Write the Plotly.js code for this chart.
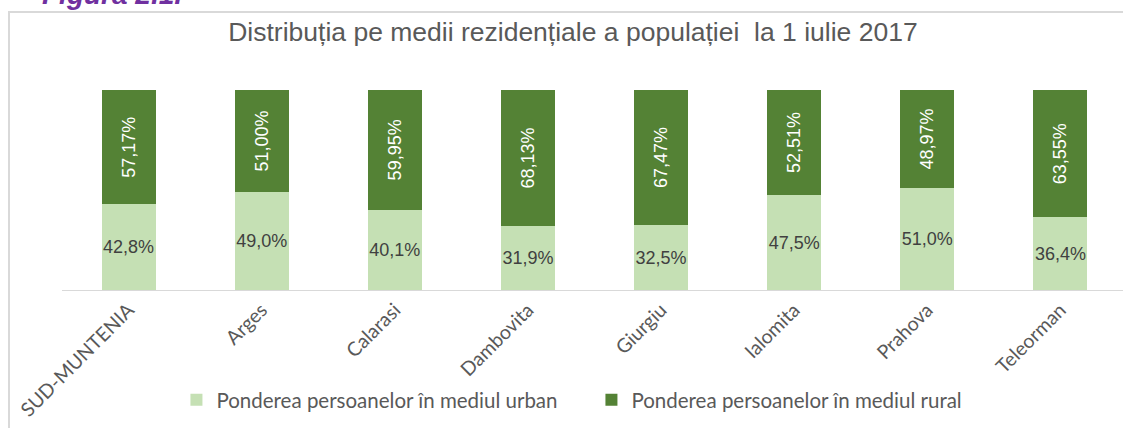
<!DOCTYPE html>
<html>
<head>
<meta charset="utf-8">
<script src="https://cdn.plot.ly/plotly-3.0.1.min.js"></script>
<style>
  html, body { margin: 0; padding: 0; background: #fff; overflow: hidden; }
  #wrap { position: relative; width: 1123px; height: 428px; overflow: hidden; }
  #frame { position: absolute; left: 8px; top: 11px; width: 1200px; height: 500px;
           border: 2px solid #d9d9d9; box-sizing: border-box; pointer-events: none; }
  #chart { position: absolute; left: 0; top: 0; width: 1123px; height: 428px; }
</style>
</head>
<body>
<div id="wrap">
  <div id="frame"></div>
  <div id="chart"></div>
</div>
<script>
const categories = ["SUD-MUNTENIA", "Arges", "Calarasi", "Dambovita", "Giurgiu", "Ialomita", "Prahova", "Teleorman"];
const urbanValues = [42.8, 49.0, 40.1, 31.9, 32.5, 47.5, 51.0, 36.4];
const ruralValues = [57.17, 51.00, 59.95, 68.13, 67.47, 52.51, 48.97, 63.55];
const seriesNames = ["Ponderea persoanelor în mediul urban", "Ponderea persoanelor în mediul rural"];
const chartTitle = "Distribuția pe medii rezidențiale a populației  la 1 iulie 2017";
const figureLabel = "Figura 2.1.";

const urban = {
  type: "bar", x: categories, y: urbanValues, name: seriesNames[0],
  marker: { color: "#C5E0B4" },
  texttemplate: "%{y:.1f}%", textposition: "inside", insidetextanchor: "middle",
  constraintext: "none", textangle: 0,
  textfont: { family: "Arial, Liberation Sans, sans-serif", size: 18, color: "#404040" },
  hoverinfo: "none"
};
const rural = {
  type: "bar", x: categories, y: ruralValues, name: seriesNames[1],
  marker: { color: "#548235" },
  texttemplate: "%{y:.2f}%", textposition: "inside", insidetextanchor: "middle",
  constraintext: "none", textangle: -90,
  textfont: { family: "Arial, Liberation Sans, sans-serif", size: 18, color: "#ffffff" },
  hoverinfo: "none"
};

const layout = {
  width: 1123, height: 428,
  margin: { l: 62, r: 0, t: 90, b: 138 },
  paper_bgcolor: "rgba(0,0,0,0)", plot_bgcolor: "rgba(0,0,0,0)",
  separators: ",.",
  barmode: "stack", bargap: 0.595,
  title: {
    text: chartTitle, xref: "container", x: 0.5102, xanchor: "center",
    yref: "container", y: 0.9255, yanchor: "middle",
    font: { family: "Arial, Liberation Sans, sans-serif", size: 26.5, color: "#595959" }
  },
  xaxis: {
    type: "category", range: [-0.5, 7.47], tickangle: -45,
    showline: true, linecolor: "#d9d9d9", linewidth: 1, ticks: "",
    showgrid: false, zeroline: false,
    tickfont: { family: "Lato, Open Sans, sans-serif", size: 19.5, color: "#595959" }
  },
  yaxis: {
    range: [0, 100], showticklabels: false, showgrid: false, zeroline: false,
    showline: false, ticks: ""
  },
  showlegend: true,
  legend: {
    orientation: "h", x: 0.499, xanchor: "center", y: -0.55, yanchor: "middle",
    font: { family: "Lato, Open Sans, sans-serif", size: 20.5, color: "#595959" },
    traceorder: "normal", entrywidth: 370, bgcolor: "rgba(0,0,0,0)"
  },
  annotations: [{
    text: "<b><i>" + figureLabel + "</i></b>", xref: "paper", yref: "paper",
    x: -0.0207, xanchor: "left", y: 1.39, yanchor: "bottom", showarrow: false,
    font: { family: "Arial, Liberation Sans, sans-serif", size: 28, color: "#7030A0" }
  }]
};

Plotly.newPlot("chart", [urban, rural], layout, { staticPlot: true, displayModeBar: false });
</script>
</body>
</html>
